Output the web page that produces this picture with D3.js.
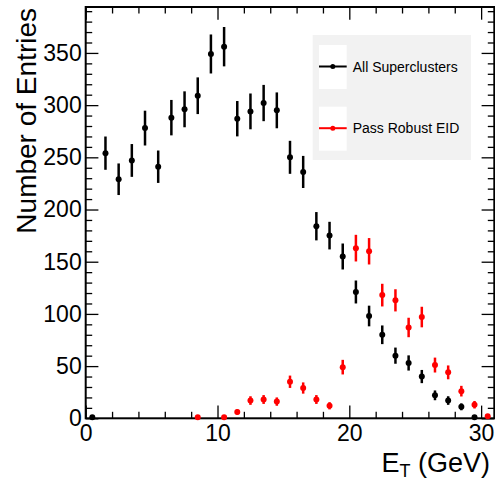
<!DOCTYPE html>
<html>
<head>
<meta charset="utf-8">
<script src="https://cdn.jsdelivr.net/npm/d3@7"></script>
<style>
  body { margin: 0; background: #fff; }
  svg { display: block; font-family: "Liberation Sans", Arial, sans-serif; }
</style>
</head>
<body>
<svg></svg>
<script>
const w = 495;
const h = 482;
const svg = d3.select('svg').attr('width', w).attr('height', h);

// bin centres (1 GeV bins) and contents
const allBins = [0.5, 1.5, 2.5, 3.5, 4.5, 5.5, 6.5, 7.5, 8.5, 9.5, 10.5, 11.5, 12.5, 13.5, 14.5,
  15.5, 16.5, 17.5, 18.5, 19.5, 20.5, 21.5, 22.5, 23.5, 24.5, 25.5, 26.5, 27.5, 28.5, 29.5];
const allValues = [1, 254, 229, 247, 278, 241, 288, 296, 309, 349, 356, 287, 294, 302, 295,
  250, 236, 184, 175, 155, 121, 98, 80, 60, 53, 40, 22, 17, 11, 1];

const eidBins = [8.5, 10.5, 11.5, 12.5, 13.5, 14.5, 15.5, 16.5, 17.5, 18.5, 19.5, 20.5, 21.5,
  22.5, 23.5, 24.5, 25.5, 26.5, 27.5, 28.5, 29.5, 30.5];
const eidValues = [1, 1, 6, 17, 18, 16, 35, 29, 18, 12, 49, 163, 160,
  118, 113, 87, 97, 51, 44, 26, 13, 2];

const xTicks = [0, 10, 20, 30];
const yTicks = [0, 50, 100, 150, 200, 250, 300, 350];
const legendLabels = ['All Superclusters', 'Pass Robust EID'];
const colors = ['#000000', '#ff0000'];

const padL = 85.7, padR = 494.3, padT = 7, padB = 418.3;

const x = d3.scaleLinear().domain([0, 31]).range([padL, padR]);
const y = d3.scaleLinear().domain([0, 394]).range([padB, padT]);

const xMinor = d3.range(0, 31, 2).filter((v) => v % 10 !== 0);
const yMinor = d3.range(0, 394, 10).filter((v) => v % 50 !== 0);

function styleAxis(g) {
  g.select('.domain').remove();
  g.selectAll('.tick line').attr('stroke', '#000').attr('stroke-width', 1.3);
  g.selectAll('.tick text').attr('fill', '#000').style('font-size', '23px')
    .style('font-family', '"Liberation Sans", Arial, sans-serif');
}

// left axis
svg.append('g').attr('transform', `translate(${padL},0)`)
  .call(d3.axisLeft(y).tickValues(yTicks).tickSize(-12.7).tickPadding(4))
  .call(styleAxis);
svg.append('g').attr('transform', `translate(${padL},0)`)
  .call(d3.axisLeft(y).tickValues(yMinor).tickSize(-6.5).tickFormat(''))
  .call(styleAxis);
// right axis (ticks only)
svg.append('g').attr('transform', `translate(${padR},0)`)
  .call(d3.axisRight(y).tickValues(yTicks).tickSize(-12.7).tickFormat(''))
  .call(styleAxis);
svg.append('g').attr('transform', `translate(${padR},0)`)
  .call(d3.axisRight(y).tickValues(yMinor).tickSize(-6.5).tickFormat(''))
  .call(styleAxis);
// bottom axis
svg.append('g').attr('transform', `translate(0,${padB})`)
  .call(d3.axisBottom(x).tickValues(xTicks).tickSize(-12.7).tickPadding(6))
  .call(styleAxis);
svg.append('g').attr('transform', `translate(0,${padB})`)
  .call(d3.axisBottom(x).tickValues(xMinor).tickSize(-6.5).tickFormat(''))
  .call(styleAxis);
// top axis (ticks only)
svg.append('g').attr('transform', `translate(0,${padT})`)
  .call(d3.axisTop(x).tickValues(xTicks).tickSize(-12.7).tickFormat(''))
  .call(styleAxis);
svg.append('g').attr('transform', `translate(0,${padT})`)
  .call(d3.axisTop(x).tickValues(xMinor).tickSize(-6.5).tickFormat(''))
  .call(styleAxis);

// frame
svg.append('rect')
  .attr('x', padL).attr('y', padT)
  .attr('width', padR - padL).attr('height', padB - padT)
  .attr('fill', 'none').attr('stroke', '#000').attr('stroke-width', 2);

// data
function drawSeries(bins, values, color) {
  const g = svg.append('g');
  const pts = bins.map((b, i) => ({ x: b, v: values[i] }));
  g.selectAll('line')
    .data(pts)
    .enter()
    .append('line')
    .attr('x1', (d) => x(d.x))
    .attr('x2', (d) => x(d.x))
    .attr('y1', (d) => y(d.v + Math.sqrt(d.v)))
    .attr('y2', (d) => y(Math.max(0, d.v - Math.sqrt(d.v))))
    .attr('stroke', color)
    .attr('stroke-width', 2.5);
  g.selectAll('circle')
    .data(pts)
    .enter()
    .append('circle')
    .attr('cx', (d) => x(d.x))
    .attr('cy', (d) => y(d.v))
    .attr('r', 3)
    .attr('fill', color);
}
drawSeries(allBins, allValues, colors[0]);
drawSeries(eidBins, eidValues, colors[1]);

// legend
const lg = svg.append('g');
lg.append('rect').attr('x', 312.7).attr('y', 35).attr('width', 158.3).attr('height', 125)
  .attr('fill', '#f2f2f2');
legendLabels.forEach((label, i) => {
  const y0 = 45 + i * 61.7;
  lg.append('rect').attr('x', 319).attr('y', y0).attr('width', 27.7).attr('height', 44)
    .attr('fill', '#fff');
  lg.append('line').attr('x1', 319).attr('x2', 346.7).attr('y1', y0 + 21.5).attr('y2', y0 + 21.5)
    .attr('stroke', colors[i]).attr('stroke-width', 2);
  lg.append('circle').attr('cx', 332.8).attr('cy', y0 + 21.5).attr('r', 2.5).attr('fill', colors[i]);
  lg.append('text').attr('x', 352.7).attr('y', y0 + 26.5)
    .style('font-size', '14px').attr('fill', '#000').text(label);
});

// axis titles
svg.append('text')
  .attr('transform', 'translate(35.5,8) rotate(-90)')
  .attr('text-anchor', 'end')
  .style('font-size', '28px')
  .text('Number of Entries');

const xt = svg.append('text')
  .attr('x', 490).attr('y', 472)
  .attr('text-anchor', 'end')
  .style('font-size', '27px');
xt.append('tspan').text('E');
xt.append('tspan').attr('dy', 4.5).style('font-size', '18px').text('T');
xt.append('tspan').attr('dy', -4.5).text(' (GeV)');
</script>
</body>
</html>
